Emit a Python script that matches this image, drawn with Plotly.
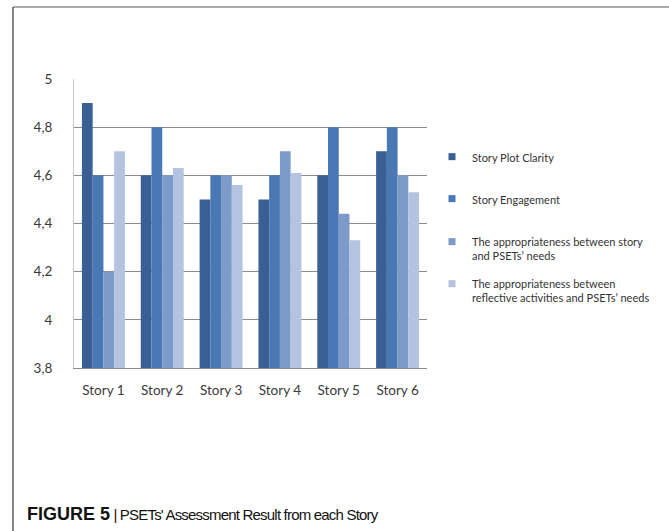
import plotly.graph_objects as go

categories = ["Story 1", "Story 2", "Story 3", "Story 4", "Story 5", "Story 6"]
series_names = [
    "Story Plot Clarity",
    "Story Engagement",
    "The appropriateness between story<br>and PSETs’ needs",
    "The appropriateness between<br>reflective activities and PSETs’ needs",
]
plot_clarity = [4.9, 4.6, 4.5, 4.5, 4.6, 4.7]
engagement = [4.6, 4.8, 4.6, 4.6, 4.8, 4.8]
story_needs = [4.2, 4.6, 4.6, 4.7, 4.44, 4.6]
activity_needs = [4.7, 4.63, 4.56, 4.61, 4.33, 4.53]
y_ticks = [3.8, 4.0, 4.2, 4.4, 4.6, 4.8, 5.0]
caption_bold = "FIGURE 5"
caption_rest = " | PSETs' Assessment Result from each Story"

colors = ["#3a5f95", "#4a78b4", "#7d9bc9", "#b4c4e0"]
values = [plot_clarity, engagement, story_needs, activity_needs]

W, H = 669, 531
L, R, T, B = 74, 427, 79, 368
pw, ph = R - L, B - T

def px(x):
    return (x - L) / pw

def py(y):
    return (B - y) / ph

fig = go.Figure()
for i, (name, vals) in enumerate(zip(series_names, values)):
    fig.add_trace(go.Bar(
        x=categories, y=vals, name=name, marker_color=colors[i],
        marker_line_width=0, showlegend=False,
    ))

legend_ids = ["legend", "legend2", "legend3", "legend4"]
legend_tops = [143, 185, 228, 270]
for i, name in enumerate(series_names):
    fig.add_trace(go.Scatter(
        x=[None], y=[None], mode="markers", name=name,
        marker=dict(symbol="square", size=7, color=colors[i]),
        legend=legend_ids[i], showlegend=True,
    ))

legend_style = dict(
    xanchor="left", yanchor="top", valign="top",
    font=dict(size=11, color="#333333"),
    itemwidth=30, bgcolor="rgba(0,0,0,0)",
)
legends = {}
for lid, top in zip(legend_ids, legend_tops):
    legends[lid] = dict(x=px(432), y=py(top), **legend_style)

fig.update_layout(
    width=W, height=H,
    margin=dict(l=L, r=W - R, t=T, b=H - B, pad=0),
    paper_bgcolor="white", plot_bgcolor="white",
    barmode="group", bargap=0.27, bargroupgap=0,
    separators=",.",
    font=dict(family="Lato, Open Sans, sans-serif", color="#404040"),
    showlegend=True,
    xaxis=dict(
        showgrid=False, showline=True, linecolor="#8c8c8c", linewidth=1,
        ticks="", tickfont=dict(size=13.5, color="#3a3a3a"),
        ticklabelstandoff=10, fixedrange=True,
    ),
    yaxis=dict(
        range=[3.8, 5.0], tickvals=y_ticks,
        showgrid=True, gridcolor="#8c8c8c", gridwidth=1,
        showline=True, linecolor="#c8c8c8", linewidth=1,
        ticks="", tickfont=dict(size=13.5, color="#3a3a3a"),
        ticklabelstandoff=18, zeroline=False, fixedrange=True,
    ),
    **legends,
)

# frame lines around the figure
fig.add_shape(type="line", xref="paper", yref="paper",
              x0=px(13), x1=px(13), y0=py(7), y1=py(531),
              line=dict(color="#333333", width=1.2))
fig.add_shape(type="line", xref="paper", yref="paper",
              x0=px(13), x1=px(669), y0=py(7), y1=py(7),
              line=dict(color="#555555", width=1.2))

fig.add_annotation(
    xref="paper", yref="paper", x=px(25), y=py(514),
    xanchor="left", yanchor="middle", showarrow=False,
    text=(f"<span style='font-size:18px'><b>{caption_bold}</b></span>"
          f"<span style='letter-spacing:-0.8px'>{caption_rest}</span>"),
    font=dict(family="Liberation Sans, Arial, sans-serif", size=15, color="#111111"),
)

fig.write_html(
    "out.html",
    config={"displayModeBar": False},
    post_script="document.body.style.margin='0';document.body.style.overflow='hidden';",
)
